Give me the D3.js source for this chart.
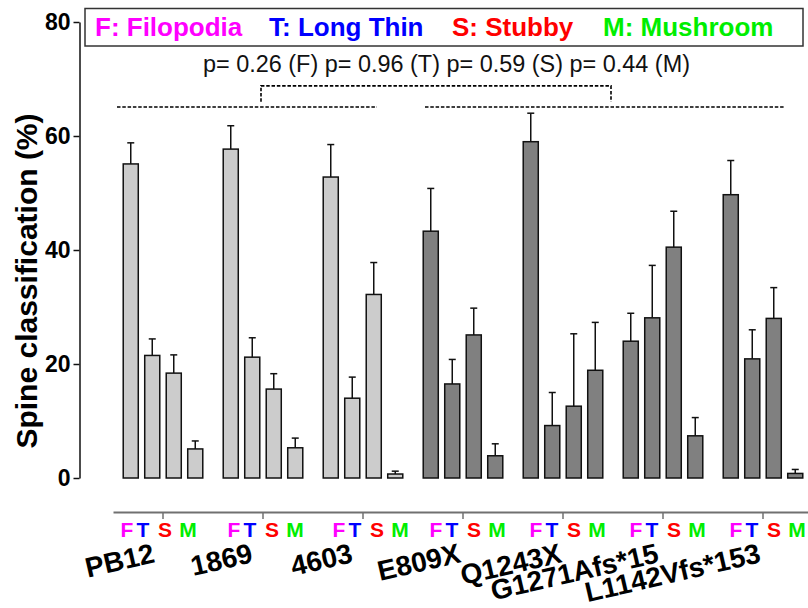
<!DOCTYPE html>
<html>
<head>
<meta charset="utf-8">
<script src="https://cdn.jsdelivr.net/npm/d3@7"></script>
<style>
  html, body { margin: 0; padding: 0; background: #fff; }
  svg { display: block; font-family: "Liberation Sans", Arial, sans-serif; }
</style>
</head>
<body>
<svg id="chart" width="808" height="608"></svg>
<script>
// ---------------- data ----------------
const groups = ["PB12", "1869", "4603", "E809X", "Q1243X", "G1271Afs*15", "L1142Vfs*153"];
const groupKind = ["control", "control", "control", "mutant", "mutant", "mutant", "mutant"];
const types = ["F", "T", "S", "M"];
const meanF = [55.1, 57.7, 52.8, 43.3, 59.0, 24.0, 49.7];
const meanT = [21.5, 21.2, 14.0, 16.5, 9.2, 28.1, 20.9];
const meanS = [18.4, 15.6, 32.2, 25.1, 12.6, 40.5, 28.0];
const meanM = [5.1, 5.3, 0.7, 3.9, 18.9, 7.4, 0.8];
const semF = [3.7, 4.1, 5.7, 7.5, 5.0, 4.9, 6.0];
const semT = [2.9, 3.4, 3.7, 4.3, 5.8, 9.2, 5.1];
const semS = [3.2, 2.7, 5.6, 4.7, 12.7, 6.3, 5.4];
const semM = [1.4, 1.7, 0.5, 2.1, 8.4, 3.2, 0.7];
const yTicks = [0, 20, 40, 60, 80];
const legendLabels = ["F: Filopodia", "T: Long Thin", "S: Stubby", "M: Mushroom"];
const pText = "p= 0.26 (F) p= 0.96 (T) p= 0.59 (S) p= 0.44 (M)";
const yTitle = "Spine classification (%)";

// ---------------- styles / layout ----------------
const typeColor = { F: "#ff00ff", T: "#0000ff", S: "#ff0000", M: "#00ee00" };
const kindFill = { control: "#cccccc", mutant: "#808080" };
const letterDx = [-27, -11, 11, 34];
const groupLetterShift = [-9, -2, 3, 0, 0, 0, 0];
const labelDx = [-7, -9, -9, -1, 0, -3, -1];
const legendX = [95, 269, 452, 603];

const means = { F: meanF, T: meanT, S: meanS, M: meanM };
const sems = { F: semF, T: semT, S: semS, M: semM };
const rows = [];
groups.forEach((g, gi) => types.forEach(t => rows.push({
  group: g, gi, type: t, kind: groupKind[gi], mean: means[t][gi], sem: sems[t][gi]
})));

const svg = d3.select("#chart");

const y = d3.scaleLinear().domain([0, 80]).range([478, 22]);
const xg = d3.scaleBand().domain(groups).range([113, 813]).padding(0);
const xi = d3.scaleBand().domain(types).range([-43, 43]).paddingInner(0.3).paddingOuter(0.15);
const gc = g => xg(g) + xg.bandwidth() / 2;

// ---------------- legend box ----------------
svg.append("rect").attr("x", 85).attr("y", 8.5).attr("width", 718).attr("height", 37.5)
  .attr("fill", "#fff").attr("stroke", "#333").attr("stroke-width", 1.5);
svg.selectAll("text.leg").data(legendLabels).join("text").attr("class", "leg")
  .attr("x", (d, i) => legendX[i]).attr("y", 36)
  .attr("font-size", 26).attr("font-weight", "bold")
  .attr("fill", (d, i) => typeColor[types[i]]).text(d => d);

// ---------------- p-values text and brackets ----------------
svg.append("text").attr("x", 203).attr("y", 72).attr("font-size", 23)
  .attr("fill", "#111").attr("textLength", 487).attr("lengthAdjust", "spacingAndGlyphs")
  .text(pText);

const dashAttrs = sel => sel.attr("fill", "none").attr("stroke", "#000")
  .attr("stroke-width", 1.6).attr("stroke-dasharray", "3.5,1.8");
const lineY = y(65.1), brTop = y(68.8), brEnd = y(66.0);
const leftStart = xg(groups[0]) + 4, leftEnd = gc(groups[2]) + 14;
const rightStart = gc(groups[3]) - 38, rightEnd = gc(groups[6]) + 22;
const brL = gc(groups[1]) - 2, brR = gc(groups[4]) + 48;
svg.append("line").attr("x1", leftStart).attr("x2", leftEnd).attr("y1", lineY).attr("y2", lineY).call(dashAttrs);
svg.append("line").attr("x1", rightStart).attr("x2", rightEnd).attr("y1", lineY).attr("y2", lineY).call(dashAttrs);
svg.append("path").attr("d", `M${brL},${brEnd}V${brTop}H${brR}V${brEnd}`).call(dashAttrs);

// ---------------- y axis ----------------
const yAxis = svg.append("g").attr("transform", "translate(79.5,0)")
  .call(d3.axisLeft(y).tickValues(yTicks).tickSize(6).tickSizeOuter(0).tickPadding(3));
yAxis.select(".domain").attr("stroke", "#111").attr("stroke-width", 1.5);
yAxis.selectAll(".tick line").attr("stroke", "#111").attr("stroke-width", 1.5);
yAxis.selectAll(".tick text").attr("font-size", 23).attr("font-weight", "bold")
  .attr("fill", "#000").attr("font-family", "Liberation Sans, Arial, sans-serif");

svg.append("text").attr("transform", "translate(37,281) rotate(-90)")
  .attr("text-anchor", "middle").attr("font-size", 30).attr("font-weight", "bold")
  .attr("fill", "#000").text(yTitle);

// ---------------- bars ----------------
const bars = svg.append("g");
bars.selectAll("rect").data(rows).join("rect")
  .attr("x", d => gc(d.group) + xi(d.type))
  .attr("width", xi.bandwidth())
  .attr("y", d => y(d.mean))
  .attr("height", d => y(0) - y(d.mean))
  .attr("fill", d => kindFill[d.kind])
  .attr("stroke", "#111").attr("stroke-width", 1.5);

const err = svg.append("g").attr("stroke", "#111").attr("stroke-width", 1.5);
err.selectAll("line.v").data(rows).join("line").attr("class", "v")
  .attr("x1", d => gc(d.group) + xi(d.type) + xi.bandwidth() / 2)
  .attr("x2", d => gc(d.group) + xi(d.type) + xi.bandwidth() / 2)
  .attr("y1", d => y(d.mean)).attr("y2", d => y(d.mean + d.sem));
err.selectAll("line.c").data(rows).join("line").attr("class", "c")
  .attr("x1", d => gc(d.group) + xi(d.type) + xi.bandwidth() / 2 - 3.5)
  .attr("x2", d => gc(d.group) + xi(d.type) + xi.bandwidth() / 2 + 3.5)
  .attr("y1", d => y(d.mean + d.sem)).attr("y2", d => y(d.mean + d.sem));

// ---------------- x axis ----------------
const xAxis = svg.append("g").attr("transform", "translate(0,512)")
  .call(d3.axisBottom(xg).tickSize(7).tickSizeOuter(0).tickFormat(""));
xAxis.select(".domain").attr("stroke", "#707070").attr("stroke-width", 1.8);
xAxis.selectAll(".tick line").attr("stroke", "#707070").attr("stroke-width", 1.5);

// F T S M letters
svg.selectAll("text.let").data(rows).join("text").attr("class", "let")
  .attr("x", d => gc(d.group) + groupLetterShift[d.gi] + letterDx[types.indexOf(d.type)])
  .attr("y", 537).attr("text-anchor", "middle")
  .attr("font-size", 21).attr("font-weight", "bold")
  .attr("fill", d => typeColor[d.type]).text(d => d.type);

// group labels
svg.selectAll("text.glab").data(groups).join("text").attr("class", "glab")
  .attr("transform", (d, i) => `translate(${gc(d) + labelDx[i]},562) rotate(-13)`)
  .attr("text-anchor", "end").attr("font-size", 28).attr("font-weight", "bold")
  .attr("fill", "#000").text(d => d);
</script>
</body>
</html>
